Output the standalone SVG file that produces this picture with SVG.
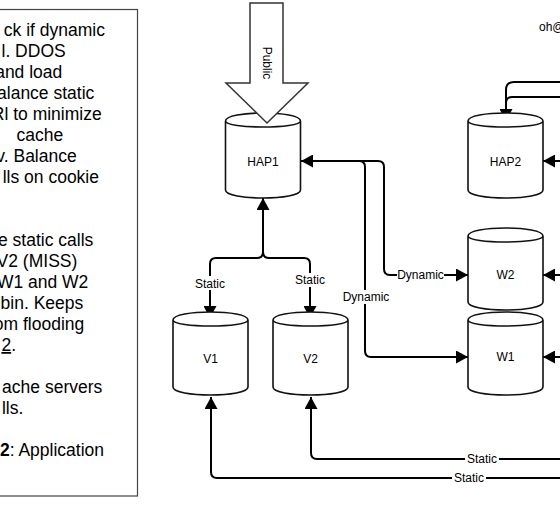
<svg xmlns="http://www.w3.org/2000/svg" width="560" height="516" viewBox="0 0 560 516">
<defs>
<style>
.cyl{fill:#fff;stroke:#111;stroke-width:1.6}
.lbl{font-family:"Liberation Sans",Arial,sans-serif;font-size:12px;fill:#000;text-anchor:middle}
.note{font-family:"Liberation Sans",Arial,sans-serif;font-size:17.5px;fill:#000;text-anchor:end}
.edge{fill:none;stroke:#000;stroke-width:2}
.bg{fill:#fff}
</style>
<marker id="arr" viewBox="0 0 12 13" refX="12" refY="6.5" markerWidth="12" markerHeight="13" markerUnits="userSpaceOnUse" orient="auto-start-reverse">
<path d="M0,0 L12,6.5 L0,13 Z" fill="#000"/>
</marker>
</defs>
<rect width="560" height="516" fill="#fff"/>

<g id="notes">
<rect x="-10" y="9.5" width="147.5" height="486.5" fill="#fff" stroke="#444" stroke-width="1.2"/>
<text class="note" x="105" y="36">ck if dynamic</text>
<text class="note" x="65.7" y="57">l. DDOS</text>
<text class="note" x="62.3" y="78">and load</text>
<text class="note" x="94.3" y="99">alance static</text>
<text class="note" x="101.7" y="120">Rl to minimize</text>
<text class="note" x="63.3" y="141">cache</text>
<text class="note" x="76.7" y="162">v. Balance</text>
<text class="note" x="99" y="183">lls on cookie</text>
<text class="note" x="93.3" y="246">e static calls</text>
<text class="note" x="77.3" y="267">V2 (MISS)</text>
<text class="note" x="88.3" y="288">W1 and W2</text>
<text class="note" x="83.3" y="309">bin. Keeps</text>
<text class="note" x="84.3" y="330">om flooding</text>
<text class="note" x="16" y="351"><tspan text-decoration="underline">2</tspan>.</text>
<text class="note" x="102.3" y="393">ache servers</text>
<text class="note" x="23.3" y="414">lls.</text>
<text class="note" x="104" y="456"><tspan font-weight="bold">2</tspan>: Application</text>
</g>

<g id="contact">
<text class="lbl" x="539" y="31" style="text-anchor:start">oh@</text>
</g>

<g id="connectors">
<path class="edge" d="M263,198 V252 Q263,258 257,258 H216 Q210,258 210,264 V318" marker-start="url(#arr)" marker-end="url(#arr)"/>
<path class="edge" d="M263,198 V252 Q263,258 269,258 H304 Q310,258 310,264 V318" marker-end="url(#arr)"/>
<path class="edge" d="M301,161 H378 Q384,161 384,167 V269 Q384,275 390,275 H468" marker-start="url(#arr)" marker-end="url(#arr)"/>
<path class="edge" d="M301,161 H359 Q365,161 365,167 V351 Q365,357 371,357 H468" marker-end="url(#arr)"/>
<path class="edge" d="M575,161 H543" marker-end="url(#arr)"/>
<path class="edge" d="M575,275 H543" marker-end="url(#arr)"/>
<path class="edge" d="M575,357 H543" marker-end="url(#arr)"/>
<path class="edge" d="M575,82 H514 Q506,82 506,90 V121" marker-end="url(#arr)"/>
<path class="edge" d="M575,97 H512 Q506,97 506,103 V121"/>
<path class="edge" d="M575,478 H217 Q211,478 211,472 V397" marker-end="url(#arr)"/>
<path class="edge" d="M575,459 H317 Q311,459 311,453 V397" marker-end="url(#arr)"/>
<rect class="bg" x="193" y="276" width="34" height="14"/>
<text class="lbl" x="210" y="287.5">Static</text>
<rect class="bg" x="293" y="273" width="34" height="14"/>
<text class="lbl" x="310" y="284">Static</text>
<rect class="bg" x="397" y="268" width="47" height="14"/>
<text class="lbl" x="420.5" y="279.3">Dynamic</text>
<rect class="bg" x="342.5" y="290" width="47" height="14"/>
<text class="lbl" x="366" y="301.3">Dynamic</text>
<rect class="bg" x="452" y="471" width="34" height="14"/>
<text class="lbl" x="469" y="482">Static</text>
<rect class="bg" x="465" y="452" width="34" height="14"/>
<text class="lbl" x="482" y="463">Static</text>
</g>

<g id="HAP1">
<path class="cyl" d="M225.5,121 C225.5,110.3 300.5,110.3 300.5,121 L300.5,190 C300.5,200.7 225.5,200.7 225.5,190 Z M225.5,121 C225.5,129 300.5,129 300.5,121"/>
<text class="lbl" x="263" y="166">HAP1</text>
</g>
<g id="HAP2">
<path class="cyl" d="M468,121 C468,110.3 543,110.3 543,121 L543,190 C543,200.7 468,200.7 468,190 Z M468,121 C468,129 543,129 543,121"/>
<text class="lbl" x="505.5" y="166">HAP2</text>
</g>
<g id="W2">
<path class="cyl" d="M468,236 C468,225.3 543,225.3 543,236 L543,302 C543,312.7 468,312.7 468,302 Z M468,236 C468,244 543,244 543,236"/>
<text class="lbl" x="505.5" y="279.3">W2</text>
</g>
<g id="W1">
<path class="cyl" d="M468,320 C468,309.3 543,309.3 543,320 L543,387 C543,397.7 468,397.7 468,387 Z M468,320 C468,328 543,328 543,320"/>
<text class="lbl" x="505.5" y="361.3">W1</text>
</g>
<g id="V1">
<path class="cyl" d="M173,320 C173,309.3 248,309.3 248,320 L248,387 C248,397.7 173,397.7 173,387 Z M173,320 C173,328 248,328 248,320"/>
<text class="lbl" x="210.5" y="362.5">V1</text>
</g>
<g id="V2">
<path class="cyl" d="M273,320 C273,309.3 348,309.3 348,320 L348,387 C348,397.7 273,397.7 273,387 Z M273,320 C273,328 348,328 348,320"/>
<text class="lbl" x="310.5" y="362.5">V2</text>
</g>

<g id="public">
<path d="M250,3 H283 V83 H308 L267,123 L226,83 H250 Z" fill="#fff" stroke="#333" stroke-width="1.5"/>
<text class="lbl" transform="translate(267,63) rotate(90)" dominant-baseline="central">Public</text>
</g>
</svg>
